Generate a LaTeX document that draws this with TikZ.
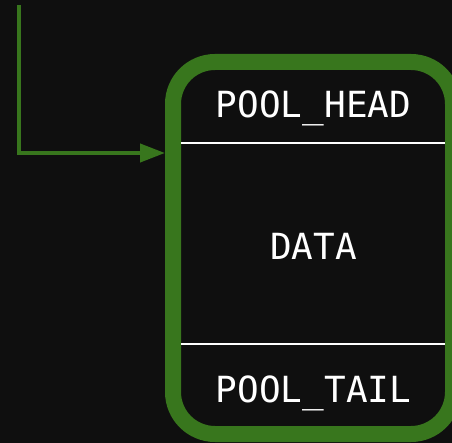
\documentclass[tikz,border=0pt]{standalone}
\usepackage{fontspec}
\setmonofont{DejaVu Sans Mono}
\usetikzlibrary{arrows.meta}
\definecolor{bg}{HTML}{0F0F0F}
\definecolor{grn}{HTML}{38761D}
\begin{document}
\begin{tikzpicture}[x=1pt,y=-1pt,
  poolbox/.style={draw=grn, line width=16pt, rounded corners=42pt, fill=bg,
    minimum width=280pt, minimum height=372pt, inner sep=0pt},
  lbl/.style={text=white, font=\ttfamily\fontsize{36}{40}\selectfont, inner sep=0pt, anchor=base},
  sep/.style={draw=white, line width=2pt},
  conn/.style={draw=grn, line width=4pt, -{Triangle[length=25pt,width=18pt]}}]
\useasboundingbox (0,0) rectangle (452,443);
\fill[bg] (0,0) rectangle (452,443);
\node[poolbox] (box) at (313,248) {};
\node[lbl] (head) at (313.5,118) {POOL\_HEAD};
\node[lbl] (data) at (313.5,259.5) {DATA};
\node[lbl] (tail) at (313.5,402) {POOL\_TAIL};
\coordinate (l1a) at (181,143); \coordinate (l1b) at (445,143);
\coordinate (l2a) at (181,344); \coordinate (l2b) at (445,344);
\draw[sep] (l1a) -- (l1b);
\draw[sep] (l2a) -- (l2b);
\coordinate (src) at (19,5);
\coordinate (lvl) at (0,153);
\draw[conn] (src) |- (box.west |- lvl);
\end{tikzpicture}
\end{document}
